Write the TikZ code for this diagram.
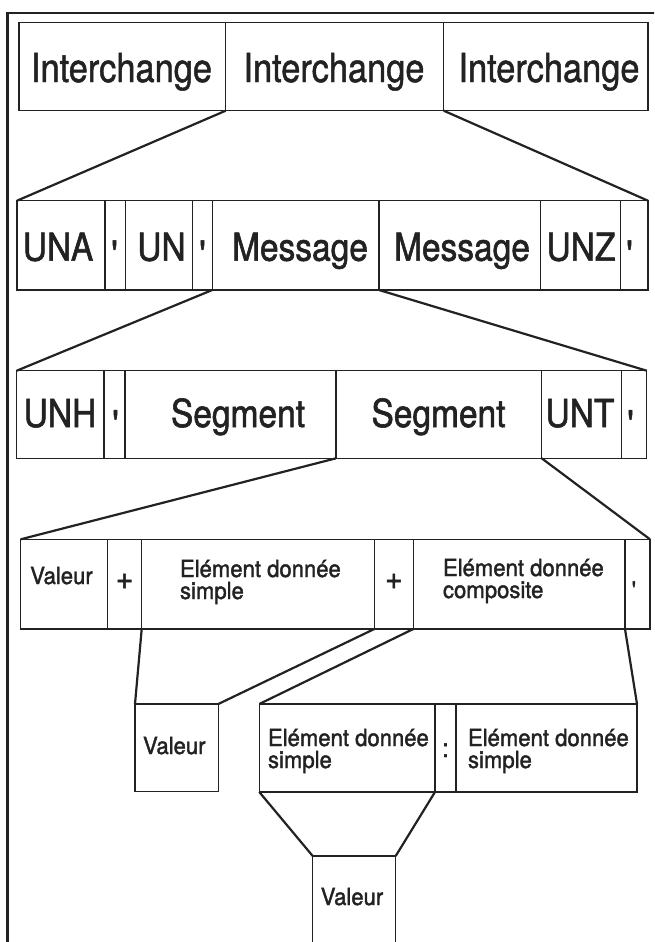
\documentclass[tikz,border=0pt]{standalone}
\usepackage{fontspec}
\setmainfont{TeX Gyre Heros}
\newfontfamily\heroA[FakeStretch=0.86,FakeBold=1.2]{TeX Gyre Heros}
\newfontfamily\heroB[FakeStretch=0.87,FakeBold=1.5]{TeX Gyre Heros}
\newfontfamily\heroC[FakeStretch=0.94,FakeBold=1.6]{TeX Gyre Heros}
\newcommand\fA{\heroA\fontsize{40}{40}\selectfont}
\newcommand\fB{\heroB\fontsize{38.5}{38.5}\selectfont}
\newcommand\fC{\heroC\fontsize{23.5}{23.5}\selectfont}
\newcommand\fP{\heroC\fontsize{32}{32}\selectfont}
\newcommand\fK{\heroC\fontsize{26}{26}\selectfont}
\definecolor{ink}{HTML}{222222}
\tikzset{
  cellb/.style={draw=ink, line width=1.3pt, inner sep=0pt, outer sep=0pt, rectangle},
  conn/.style={draw=ink, line width=2.2pt},
  txt/.style={anchor=base, inner sep=0pt, outer sep=0pt, text=ink},
  txtw/.style={anchor=base west, inner sep=0pt, outer sep=0pt, text=ink},
}
\newcommand\mkcell[5]{\node[cellb, minimum width={(#4-#2)*1pt}, minimum height={(#5-#3)*1pt}] (#1) at ({(#2+#4)/2},{(#3+#5)/2}) {};}
\begin{document}
\begin{tikzpicture}[x=1pt,y=-1pt]
\useasboundingbox (0,0) rectangle (654,942);
\clip (0,0) rectangle (654,942);
\fill[white] (0,0) rectangle (654,942);
% frame
\coordinate (fb) at (7.5,960);
\coordinate (ftl) at (7.5,13);
\coordinate (ftr) at (670,13);
\draw[draw=ink, line width=2.5pt] (fb) -- (ftl) -- (ftr);
% row 1
\mkcell{i1}{19}{22.7}{225.7}{110.7}
\mkcell{i2}{225.7}{22.7}{443.7}{110.7}
\mkcell{i3}{443.7}{22.7}{648}{110.7}
\node[txt, font=\fA] (ti1) at (121.5,82) {Interchange};
\node[txt, font=\fA] (ti2) at (334,82) {Interchange};
\node[txt, font=\fA] (ti3) at (549,82) {Interchange};
% row 2
\mkcell{una}{17}{200.7}{105}{290}
\mkcell{q1}{105}{200.7}{125.7}{290}
\mkcell{un}{125.7}{200.7}{192.7}{290}
\mkcell{q2}{192.7}{200.7}{212.3}{290}
\mkcell{m1}{212.3}{200.7}{379}{290}
\mkcell{m2}{379}{200.7}{540.4}{290}
\mkcell{unz}{540.4}{200.7}{620.8}{290}
\mkcell{q3}{620.8}{200.7}{648}{290}
\node[txt, font=\fB] (tuna) at (58,260.7) {UNA};
\node[txt, font=\fB] (tq1) at (115,267.7) {\textquotesingle};
\node[txt, font=\fB] (tun) at (161.5,260.7) {UN};
\node[txt, font=\fB] (tq2) at (203,267.7) {\textquotesingle};
\node[txt, font=\fB] (tm1) at (300,260.7) {Message};
\node[txt, font=\fB] (tm2) at (462,260.7) {Message};
\node[txt, font=\fB] (tunz) at (581,260.7) {UNZ};
\node[txt, font=\fB] (tq3) at (630,267.7) {\textquotesingle};
% row 3
\mkcell{unh}{16.7}{370.7}{104}{458.3}
\mkcell{q4}{104}{370.7}{125}{458.3}
\mkcell{s1}{125}{370.7}{336}{458.3}
\mkcell{s2}{336}{370.7}{541.7}{458.3}
\mkcell{unt}{541.7}{370.7}{621.7}{458.3}
\mkcell{q5}{621.7}{370.7}{646.7}{458.3}
\node[txt, font=\fB] (tunh) at (60,427) {UNH};
\node[txt, font=\fB] (tq4) at (116,437.5) {\textquotesingle};
\node[txt, font=\fB] (ts1) at (238,427) {Segment};
\node[txt, font=\fB] (ts2) at (438.5,427) {Segment};
\node[txt, font=\fB] (tunt) at (580,427) {UNT};
\node[txt, font=\fB] (tq5) at (631,437.5) {\textquotesingle};
% row 4
\mkcell{v1}{20.7}{539.3}{107.3}{629}
\mkcell{p1}{107.3}{539.3}{141.7}{629}
\mkcell{eds1}{141.7}{539.3}{374.3}{629}
\mkcell{p2}{374.3}{539.3}{413.3}{629}
\mkcell{edc}{413.3}{539.3}{625}{629}
\mkcell{q6}{625}{539.3}{650}{629}
\node[txt, font=\fC] (tv1) at (61.5,584) {Valeur};
\node[txt, font=\fP] (tp1) at (124.5,589) {+};
\node[txtw, font=\fC] (te1a) at (180,577) {Elément donnée};
\node[txtw, font=\fC] (te1b) at (180,599) {simple};
\node[txt, font=\fP] (tp2) at (393.8,589) {+};
\node[txtw, font=\fC] (tc1a) at (443,576) {Elément donnée};
\node[txtw, font=\fC] (tc1b) at (443,598) {composite};
\node[txt, font=\fC] (tq6) at (634,598) {\textquotesingle};
% row 5
\mkcell{v2}{135}{704}{218.3}{791.5}
\mkcell{eds2}{259.3}{704}{435}{792}
\mkcell{col}{435}{704}{456}{792}
\mkcell{eds3}{456}{704}{637}{792}
\node[txt, font=\fC] (tv2) at (174.3,754) {Valeur};
\node[txtw, font=\fC] (te2a) at (268,746) {Elément donnée};
\node[txtw, font=\fC] (te2b) at (268,768) {simple};
\node[txt, font=\fK] (tcol) at (445.5,757) {:};
\node[txtw, font=\fC] (te3a) at (468,746) {Elément donnée};
\node[txtw, font=\fC] (te3b) at (468,768) {simple};
% row 6
\mkcell{v3}{312.7}{856}{395.7}{970}
\node[txt, font=\fC] (tv3) at (352,905) {Valeur};
% connectors
\draw[conn] (i1.south east) -- (una.north west);
\draw[conn] (i2.south east) -- (q3.north east);
\draw[conn] (m1.south west) -- (unh.north west);
\draw[conn] (m1.south east) -- (q5.north east);
\draw[conn] (s1.south east) -- (v1.north west);
\draw[conn] (s2.south east) -- (q6.north east);
\draw[conn] (eds1.south west) -- (v2.north west);
\draw[conn] (eds1.south east) -- (v2.north east);
\draw[conn] (p2.south east) -- (eds2.north west);
\draw[conn] (edc.south east) -- (eds3.north east);
\draw[conn] (eds2.south west) -- (v3.north west);
\draw[conn] (eds2.south east) -- (v3.north east);
\end{tikzpicture}
\end{document}
